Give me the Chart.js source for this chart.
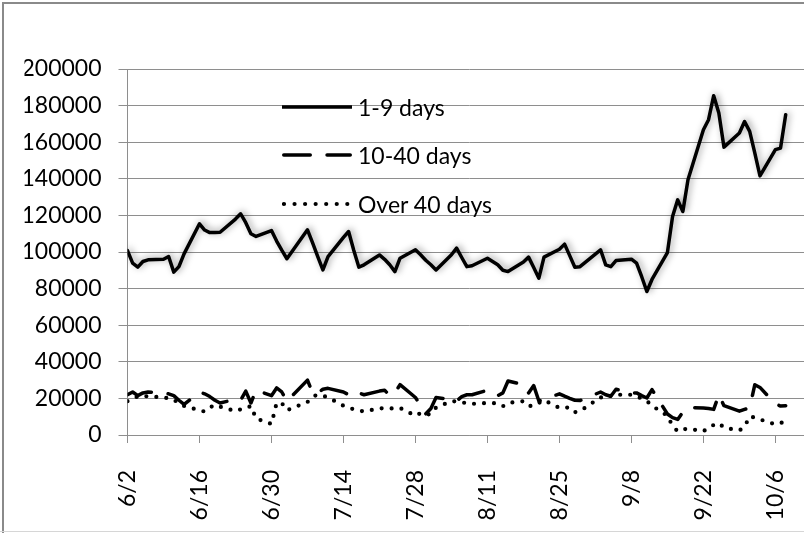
<!DOCTYPE html>
<html>
<head>
<meta charset="utf-8">
<script src="https://cdn.jsdelivr.net/npm/chart.js@4.4.1/dist/chart.umd.min.js"></script>
<style>
html,body{margin:0;padding:0;overflow:hidden;background:#fff;width:804px;height:533px;}
#wrap{position:relative;width:804px;height:533px;overflow:hidden;background:#fff;}
#c{position:absolute;left:0;top:0;}
#frame{position:absolute;left:2px;top:2px;width:900px;height:600px;border-left:2px solid #8a8a8a;border-top:2px solid #8a8a8a;pointer-events:none;}
#bottomline{position:absolute;left:0;top:531px;width:804px;height:1px;background:#d6d6d6;}
#legend{position:absolute;left:282px;top:0;pointer-events:none;font-family:Lato,"Open Sans",sans-serif;font-size:23px;color:#000;}
.lrow{position:absolute;left:0;height:30px;display:flex;align-items:center;white-space:nowrap;}
.lrow svg{display:block;flex:none;}
.lrow span{margin-left:6px;line-height:30px;}
</style>
</head>
<body>
<div id="wrap">
  <canvas id="c" width="830" height="533"></canvas>
  <div id="legend"></div>
  <div id="frame"></div>
  <div id="bottomline"></div>
</div>
<script>
// ---- data (business days, 2008) ----
const dates = [
  "6/2","6/3","6/4","6/5","6/6","6/9","6/10","6/11","6/12","6/13","6/16","6/17","6/18","6/19","6/20","6/23","6/24","6/25","6/26","6/27","6/30",
  "7/1","7/2","7/3","7/7","7/8","7/9","7/10","7/11","7/14","7/15","7/16","7/17","7/18","7/21","7/22","7/23","7/24","7/25","7/28","7/29","7/30","7/31",
  "8/1","8/4","8/5","8/6","8/7","8/8","8/11","8/12","8/13","8/14","8/15","8/18","8/19","8/20","8/21","8/22","8/25","8/26","8/27","8/28","8/29",
  "9/2","9/3","9/4","9/5","9/8","9/9","9/10","9/11","9/12","9/15","9/16","9/17","9/18","9/19","9/22","9/23","9/24","9/25","9/26","9/29","9/30",
  "10/1","10/2","10/3","10/6","10/7","10/8"
];
const days1to9 = [
  100800,93900,91700,94800,95700,96000,97500,89000,92000,99000,115400,112000,110600,110600,110800,118000,120900,116000,110000,108500,111700,
  106000,101000,96300,112100,105000,97500,90200,97500,108000,111200,101000,91700,93000,98400,96000,93000,89300,96600,101200,98500,95500,93000,
  90200,98500,102100,97000,92000,92500,96600,94800,93000,90000,89300,94500,97200,91500,85700,97200,101500,104300,98000,91700,92000,
  101200,93000,92000,95300,96100,93900,86500,78400,85000,99700,119400,128500,122100,139500,166800,172300,185400,176000,157300,165000,171300,
  165900,154000,141600,155900,156800,175000
];
const days10to40 = [
  22000,23500,21500,23000,23500,23000,22500,21500,19000,16700,23500,22500,21000,19000,17500,19500,19000,24000,17500,24500,21500,
  25700,23500,18500,30000,23000,23000,25000,25500,23500,22000,21000,23000,22000,24000,24500,21500,23000,27500,20500,16000,11500,14500,
  20500,19400,18600,21000,22000,22000,24500,22500,21500,23000,29500,27500,23000,27000,18600,19500,22500,21200,20000,19000,18800,
  23500,22000,21200,25000,23000,23000,21500,20200,24800,11500,9500,8500,12500,15000,14800,14500,14000,22000,16000,13000,14000,
  14800,27500,26000,17000,15800,16000
];
const over40days = [
  18500,20000,21000,21500,21000,20600,20000,19400,17000,15900,13500,12800,15000,16500,15500,13000,14000,14500,15900,9000,6000,
  17500,17500,13500,18000,21000,22000,21500,20500,16000,15000,14000,13300,12900,14500,14700,14500,14600,14800,10500,12000,11000,11500,
  15000,18500,18300,18000,17200,17000,17500,17500,17000,15700,17500,18500,15900,15900,17500,19000,14800,15000,15000,12500,13000,
  20600,20000,21500,22000,22000,21000,20000,18600,16000,10500,5000,2000,3000,3500,2000,4000,5500,6500,4000,2500,4500,
  10200,9500,8500,5800,6500,7500
];
const seriesNames = ["1-9 days", "10-40 days", "Over 40 days"];
const dataYear = 2008;
const firstDate = "6/2";
const yMax = 200000;
const yStep = 20000;
const xTickStepDays = 14;

// ---- helpers ----
function dayIndex(md) {
  const [m, d] = md.split("/").map(Number);
  const [m0, d0] = firstDate.split("/").map(Number);
  return Math.round((Date.UTC(dataYear, m - 1, d) - Date.UTC(dataYear, m0 - 1, d0)) / 864e5);
}
function dayLabel(v) {
  const [m0, d0] = firstDate.split("/").map(Number);
  const dt = new Date(Date.UTC(dataYear, m0 - 1, d0) + v * 864e5);
  return (dt.getUTCMonth() + 1) + "/" + dt.getUTCDate();
}
const toPts = arr => dates.map((d, i) => ({ x: dayIndex(d), y: arr[i] }));

const FONT = { family: "Lato, 'Open Sans', sans-serif", size: 23 };
const GRID = "#8e8e8e";

const shadowPlugin = {
  id: "lineShadow",
  beforeDatasetDraw(chart, args) {
    const ds = chart.data.datasets[args.index];
    if (!ds.shadow) return;
    const ctx = chart.ctx;
    ctx.save();
    ctx.shadowColor = "rgba(0,0,0,0.4)";
    ctx.shadowBlur = 7;
    ctx.shadowOffsetX = 2;
    ctx.shadowOffsetY = -1;
  },
  afterDatasetDraw(chart, args) {
    const ds = chart.data.datasets[args.index];
    if (ds.shadow) chart.ctx.restore();
  }
};

const chart = new Chart(document.getElementById("c"), {
  type: "line",
  data: {
    datasets: [
      { label: seriesNames[0], data: toPts(days1to9), borderColor: "#000", borderWidth: 3.5,
        borderJoinStyle: "round", borderCapStyle: "round", borderDash: [], pointRadius: 0, tension: 0, shadow: true },
      { label: seriesNames[1], data: toPts(days10to40), borderColor: "#000", borderWidth: 3.5,
        borderJoinStyle: "round", borderCapStyle: "round", borderDash: [26.5, 16.8], pointRadius: 0, tension: 0 },
      { label: seriesNames[2], data: toPts(over40days), borderColor: "#000", borderWidth: 4.2,
        borderJoinStyle: "round", borderCapStyle: "round", borderDash: [0, 10], pointRadius: 0, tension: 0 }
    ]
  },
  options: {
    responsive: false,
    animation: false,
    devicePixelRatio: 1,
    layout: { padding: { left: 24.5, top: 69, right: 0, bottom: 0 } },
    plugins: { legend: { display: false }, tooltip: { enabled: false } },
    scales: {
      x: {
        type: "linear", min: 0, max: 133,
        afterFit(scale) { scale.height = 98; },
        ticks: { stepSize: xTickStepDays, autoSkip: false, includeBounds: false, maxRotation: 90, minRotation: 90,
                 font: FONT, color: "#000", padding: 27, callback: v => dayLabel(v) },
        grid: { drawOnChartArea: false, drawTicks: true, tickLength: 8, color: GRID, lineWidth: 1 },
        border: { display: true, color: GRID, width: 1 }
      },
      y: {
        min: 0, max: yMax,
        afterFit(scale) { scale.width = 103; },
        ticks: { stepSize: yStep, font: FONT, color: "#000", padding: 17, callback: v => String(v) },
        grid: { color: GRID, lineWidth: 1, tickLength: 9 },
        border: { display: true, color: GRID, width: 1 }
      }
    }
  },
  plugins: [shadowPlugin]
});

// ---- legend built from the chart's datasets ----
const legendEl = document.getElementById("legend");
const rowCenters = [106.7, 155.3, 204];
chart.data.datasets.forEach((ds, i) => {
  const row = document.createElement("div");
  row.className = "lrow";
  row.style.top = (rowCenters[i] - 15) + "px";
  const w = ds.borderWidth;
  const cap = ds.borderCapStyle === "round" && ds.borderDash.length ? "round" : "butt";
  const x1 = cap === "round" ? (ds.borderDash[0] === 0 ? 2 : w / 2) : 0;
  const x2 = cap === "round" ? 70 - w / 2 : 70;
  const dash = ds.borderDash.length ? (ds.borderDash[0] === 0 ? "0 10.55" : ds.borderDash.join(" ")) : "none";
  row.innerHTML =
    '<svg width="70" height="10" viewBox="0 0 70 10"><line x1="' + x1 + '" y1="5" x2="' + x2 + '" y2="5" stroke="#000" stroke-width="' + w +
    '" stroke-linecap="' + cap + '" stroke-dasharray="' + dash + '"/></svg><span>' + ds.label + '</span>';
  legendEl.appendChild(row);
});
</script>
</body>
</html>
